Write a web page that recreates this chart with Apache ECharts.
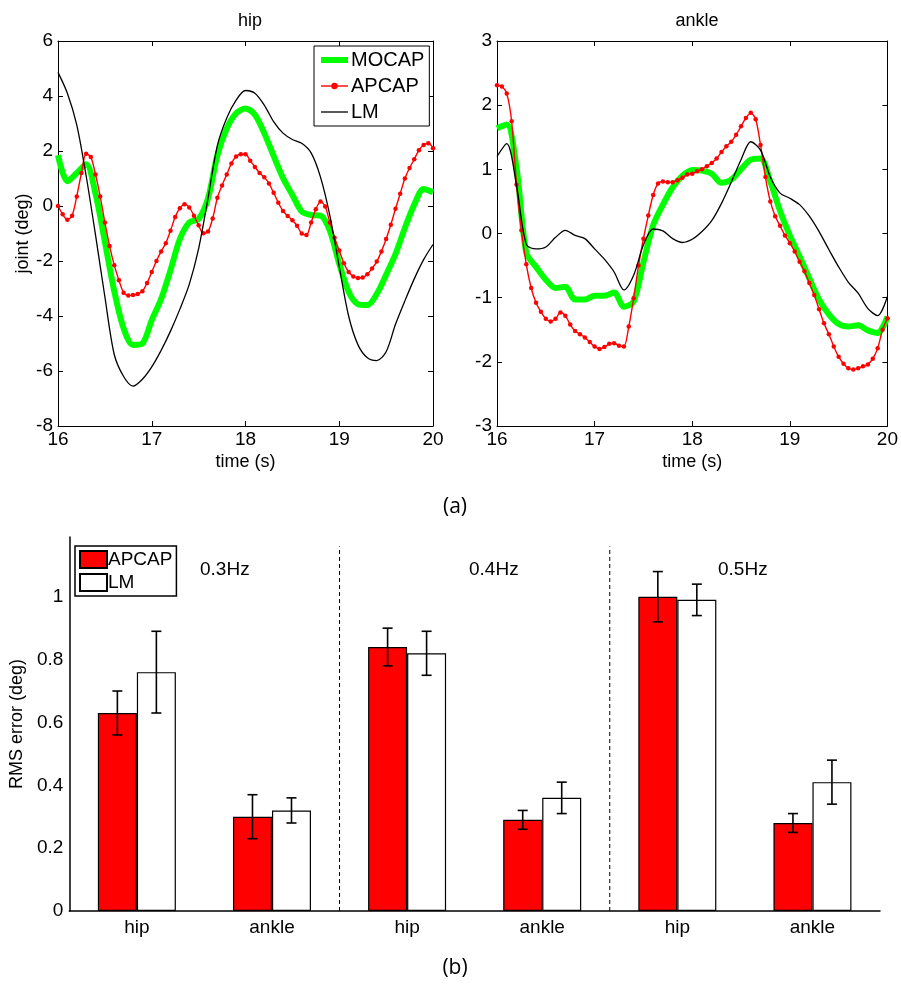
<!DOCTYPE html>
<html>
<head>
<meta charset="utf-8">
<script src="https://cdn.jsdelivr.net/npm/echarts@6/dist/echarts.min.js"></script>
<style>
html,body{margin:0;padding:0;background:#fff;}
#chart{width:901px;height:985px;}
</style>
</head>
<body>
<div id="chart"></div>
<script>
// ---------- data ----------
const tCoarse = [16.0,16.1,16.2,16.3,16.4,16.5,16.6,16.7,16.8,16.9,17.0,17.1,17.2,17.3,17.4,17.5,17.6,17.7,17.8,17.9,18.0,18.1,18.2,18.3,18.4,18.5,18.6,18.7,18.8,18.9,19.0,19.1,19.2,19.3,19.4,19.5,19.6,19.7,19.8,19.9,20.0];
const tFine = [16.00,16.05,16.10,16.15,16.20,16.25,16.30,16.35,16.40,16.45,16.50,16.55,16.60,16.65,16.70,16.75,16.80,16.85,16.90,16.95,17.00,17.05,17.10,17.15,17.20,17.25,17.30,17.35,17.40,17.45,17.50,17.55,17.60,17.65,17.70,17.75,17.80,17.85,17.90,17.95,18.00,18.05,18.10,18.15,18.20,18.25,18.30,18.35,18.40,18.45,18.50,18.55,18.60,18.65,18.70,18.75,18.80,18.85,18.90,18.95,19.00,19.05,19.10,19.15,19.20,19.25,19.30,19.35,19.40,19.45,19.50,19.55,19.60,19.65,19.70,19.75,19.80,19.85,19.90,19.95,20.00];

const hipMocap = [1.85,0.9,1.2,1.52,0.45,-1.3,-3.1,-4.45,-5.05,-5.0,-4.15,-3.38,-2.33,-1.2,-0.6,-0.47,0.28,1.85,2.82,3.37,3.55,3.32,2.65,1.82,1.02,0.4,-0.2,-0.33,-0.35,-0.9,-2.1,-3.12,-3.57,-3.6,-3.2,-2.5,-1.75,-0.8,0.05,0.62,0.5];
const hipLM = [4.86,4.1,2.95,1.1,-1.05,-3.3,-5.4,-6.2,-6.55,-6.3,-5.85,-5.25,-4.55,-3.75,-2.85,-1.55,0.28,2.2,3.2,3.85,4.2,4.1,3.67,3.07,2.65,2.42,2.28,1.93,1.05,-0.35,-2.2,-4.0,-5.05,-5.52,-5.62,-5.3,-4.3,-3.45,-2.65,-1.95,-1.4];
const hipApcap = [0.0,-0.3,-0.5,-0.35,0.35,1.2,1.9,1.78,1.15,0.35,-0.6,-1.45,-2.15,-2.7,-3.15,-3.25,-3.24,-3.2,-3.1,-2.8,-2.4,-2.0,-1.65,-1.35,-0.9,-0.4,-0.08,0.06,-0.05,-0.35,-0.7,-0.99,-0.93,-0.45,0.3,0.75,1.15,1.55,1.8,1.88,1.88,1.65,1.42,1.2,1.05,0.82,0.48,0.12,-0.18,-0.36,-0.52,-0.72,-1.0,-1.05,-0.6,-0.12,0.16,-0.02,-0.6,-1.15,-1.62,-2.08,-2.4,-2.56,-2.62,-2.6,-2.48,-2.27,-2.02,-1.65,-1.2,-0.68,-0.1,0.45,1.0,1.38,1.7,2.03,2.22,2.28,2.1];

const ankMocap = [1.64,1.7,1.02,-0.3,-0.52,-0.72,-0.85,-0.83,-1.03,-1.03,-0.97,-0.97,-0.92,-1.14,-1.06,-0.45,0.13,0.45,0.72,0.9,0.99,0.98,0.93,0.79,0.84,1.0,1.15,1.17,0.81,0.35,-0.03,-0.36,-0.7,-1.03,-1.26,-1.41,-1.45,-1.43,-1.51,-1.55,-1.3];
const ankLM = [1.2,1.4,0.75,-0.17,-0.24,-0.21,-0.06,0.05,-0.03,-0.08,-0.24,-0.4,-0.6,-0.88,-0.65,-0.18,0.07,0.04,-0.08,-0.14,-0.09,0.03,0.2,0.47,0.8,1.15,1.43,1.3,0.88,0.63,0.55,0.45,0.27,0.03,-0.25,-0.52,-0.76,-0.93,-1.17,-1.28,-0.98];
const ankApcap = [2.31,2.29,2.18,1.75,0.76,0.05,-0.48,-0.85,-1.08,-1.22,-1.33,-1.37,-1.33,-1.23,-1.28,-1.42,-1.52,-1.57,-1.62,-1.69,-1.76,-1.80,-1.77,-1.72,-1.71,-1.75,-1.76,-1.45,-1.01,-0.5,-0.08,0.28,0.6,0.78,0.81,0.8,0.8,0.83,0.87,0.92,0.93,0.97,1.0,1.05,1.1,1.17,1.27,1.36,1.43,1.54,1.67,1.80,1.88,1.78,1.38,0.88,0.5,0.27,0.12,-0.03,-0.15,-0.28,-0.44,-0.59,-0.77,-0.96,-1.18,-1.4,-1.57,-1.76,-1.92,-2.03,-2.1,-2.12,-2.1,-2.07,-2.04,-1.95,-1.79,-1.5,-1.32];

const xTicks = [16,17,18,19,20];
const barCats = ['hip','ankle','hip','ankle','hip','ankle'];
const apcapRms = [0.63,0.30,0.84,0.29,1.00,0.28];
const apcapLo  = [0.56,0.23,0.78,0.26,0.92,0.25];
const apcapHi  = [0.70,0.37,0.90,0.32,1.08,0.31];
const lmRms = [0.76,0.32,0.82,0.36,0.99,0.41];
const lmLo  = [0.63,0.28,0.75,0.31,0.94,0.34];
const lmHi  = [0.89,0.36,0.89,0.41,1.04,0.48];
const sepAfter = [1,3];
const freqLabels = ['0.3Hz','0.4Hz','0.5Hz'];
const lineNames = ['MOCAP','APCAP','LM'];
const barNames = ['APCAP','LM'];

// ---------- chart ----------
const F = '"Liberation Sans", Arial, Helvetica, sans-serif';
const FC = '"Open Sans", "Noto Sans", sans-serif';
const pair = (t, v) => t.map((x, i) => [x, v[i]]);

function boxAxesX(grid, min, max, interval) {
  return [
    { gridIndex: grid, type: 'value', min: min, max: max, interval: interval, position: 'bottom',
      name: 'time (s)', nameLocation: 'middle', nameGap: 27,
      nameTextStyle: { fontFamily: F, fontSize: 18, color: '#000' },
      axisLine: { onZero: false, lineStyle: { color: '#000', width: 1 } },
      axisTick: { inside: true, length: 5, lineStyle: { color: '#000' } },
      axisLabel: { fontFamily: F, fontSize: 19, color: '#000', margin: 4 },
      splitLine: { show: false } },
    { gridIndex: grid, type: 'value', min: min, max: max, interval: interval, position: 'top',
      axisLine: { onZero: false, lineStyle: { color: '#000', width: 1 } },
      axisTick: { inside: true, length: 5, lineStyle: { color: '#000' } },
      axisLabel: { show: false }, splitLine: { show: false } }
  ];
}
function boxAxesY(grid, min, max, interval, name) {
  return [
    { gridIndex: grid, type: 'value', min: min, max: max, interval: interval, position: 'left',
      name: name || '', nameLocation: 'middle', nameGap: 26,
      nameTextStyle: { fontFamily: F, fontSize: 18, color: '#000' },
      axisLine: { show: true, onZero: false, lineStyle: { color: '#000', width: 1 } },
      axisTick: { show: true, inside: true, length: 5, lineStyle: { color: '#000' } },
      axisLabel: { fontFamily: F, fontSize: 19, color: '#000', margin: 5 },
      splitLine: { show: false } },
    { gridIndex: grid, type: 'value', min: min, max: max, interval: interval, position: 'right',
      axisLine: { show: true, onZero: false, lineStyle: { color: '#000', width: 1 } },
      axisTick: { show: true, inside: true, length: 5, lineStyle: { color: '#000' } },
      axisLabel: { show: false }, splitLine: { show: false } }
  ];
}

function lineSeries(kind, xi, yi, data) {
  if (kind === 0) return { name: lineNames[0], type: 'line', xAxisIndex: xi, yAxisIndex: yi, data: data,
    smooth: 0.3, showSymbol: false, symbol: 'none', lineStyle: { color: '#00ff00', width: 6 }, itemStyle: { color: '#00ff00' }, z: 2 };
  if (kind === 1) return { name: lineNames[1], type: 'line', xAxisIndex: xi, yAxisIndex: yi, data: data,
    smooth: 0.3, symbol: 'circle', symbolSize: 4.5, showSymbol: true,
    lineStyle: { color: '#ff0000', width: 1.4 }, itemStyle: { color: '#ff0000' }, z: 3 };
  return { name: lineNames[2], type: 'line', xAxisIndex: xi, yAxisIndex: yi, data: data,
    smooth: 0.3, showSymbol: false, symbol: 'none', lineStyle: { color: '#000', width: 1.3 }, itemStyle: { color: '#000' }, z: 4 };
}

const BW = 39;
function errSeries(lo, hi, sign) {
  return { type: 'custom', xAxisIndex: 4, yAxisIndex: 4, z: 10,
    data: lo.map((l, i) => [i, l, hi[i]]),
    renderItem: function (params, api) {
      const a = api.coord([api.value(0), api.value(1)]);
      const b = api.coord([api.value(0), api.value(2)]);
      const x = a[0] + sign * BW / 2;
      const cap = 5;
      const st = { stroke: '#000', lineWidth: 1.6 };
      return { type: 'group', children: [
        { type: 'line', shape: { x1: x, y1: a[1], x2: x, y2: b[1] }, style: st },
        { type: 'line', shape: { x1: x - cap, y1: a[1], x2: x + cap, y2: a[1] }, style: st },
        { type: 'line', shape: { x1: x - cap, y1: b[1], x2: x + cap, y2: b[1] }, style: st }
      ] };
    } };
}

const sepSeries = { type: 'custom', xAxisIndex: 4, yAxisIndex: 4, z: 1,
  data: sepAfter.map(i => [i]),
  renderItem: function (params, api) {
    const i = api.value(0);
    const p1 = api.coord([i, 0]);
    const p2 = api.coord([i + 1, 1.16]);
    const x = (p1[0] + p2[0]) / 2;
    return { type: 'line', shape: { x1: x, y1: p1[1], x2: x, y2: p2[1] },
      style: { stroke: '#000', lineWidth: 1, lineDash: [4, 3] } };
  } };

const option = {
  animation: false,
  backgroundColor: '#fff',
  title: [
    { text: 'hip', left: 245, top: 7, textAlign: 'center', textStyle: { fontFamily: F, fontSize: 18, fontWeight: 'normal', color: '#000' } },
    { text: 'ankle', left: 692, top: 7, textAlign: 'center', textStyle: { fontFamily: F, fontSize: 18, fontWeight: 'normal', color: '#000' } },
    { text: '(a)', left: 450, top: 492, textAlign: 'center', textStyle: { fontFamily: FC, fontSize: 21, fontWeight: 'normal', color: '#000' } },
    { text: '(b)', left: 450, top: 953, textAlign: 'center', textStyle: { fontFamily: FC, fontSize: 21, fontWeight: 'normal', color: '#000' } }
  ],
  legend: [
    { data: [
        { name: lineNames[0], itemStyle: { opacity: 0 }, lineStyle: { width: 6, color: '#00ff00' } },
        { name: lineNames[1], lineStyle: { width: 1.4, color: '#ff0000' } },
        { name: lineNames[2], itemStyle: { opacity: 0 }, lineStyle: { width: 1.3, color: '#000' } }
      ],
      orient: 'vertical', left: 314, top: 46, itemWidth: 27, itemHeight: 8, itemGap: 6,
      padding: [4, 5, 4, 4], borderColor: '#000', borderWidth: 1, backgroundColor: '#fff', borderRadius: 0,
      textStyle: { fontFamily: F, fontSize: 20, color: '#000', padding: [0, 0, 0, -2] }, selectedMode: false },
    { data: barNames.map(n => n + ' (b)'), orient: 'vertical', left: 75, top: 546, itemWidth: 27, itemHeight: 17, itemGap: 4,
      padding: [4, 4, 4, 4], borderColor: '#000', borderWidth: 1.5, backgroundColor: '#fff', borderRadius: 0, icon: 'rect',
      formatter: n => n.replace(' (b)', ''),
      textStyle: { fontFamily: F, fontSize: 19, color: '#000', padding: [0, 0, 0, -4] }, selectedMode: false }
  ],
  grid: [
    { left: 58, top: 41, width: 375, height: 385 },
    { left: 497, top: 41, width: 391, height: 385 },
    { left: 63, top: 537, width: 817, height: 374 }
  ],
  xAxis: [].concat(
    boxAxesX(0, 16, 20, 1),
    boxAxesX(1, 16, 20, 1),
    [{ gridIndex: 2, type: 'category', data: barCats, boundaryGap: true,
       axisLine: { onZero: false, lineStyle: { color: '#000', width: 1.5 } }, axisTick: { show: false },
       axisLabel: { fontFamily: F, fontSize: 19, color: '#000', margin: 7 } }]
  ),
  yAxis: [].concat(
    boxAxesY(0, -8, 6, 2, 'joint (deg)'),
    boxAxesY(1, -3, 3, 1, ''),
    [{ gridIndex: 2, type: 'value', min: 0, max: 1.19, interval: 0.2,
       name: 'RMS error (deg)', nameLocation: 'middle', nameGap: 40,
       nameTextStyle: { fontFamily: F, fontSize: 18, color: '#000' },
       axisLine: { show: true, onZero: false, lineStyle: { color: '#000', width: 1.5 } },
       axisTick: { show: false },
       axisLabel: { fontFamily: F, fontSize: 19, color: '#000', margin: 6, showMaxLabel: false,
         formatter: v => (Math.abs(v * 5 - Math.round(v * 5)) < 1e-6 ? String(Math.round(v * 10) / 10) : '') },
       splitLine: { show: false } }]
  ),
  graphic: [
    { type: 'text', left: 200, top: 560, style: { text: freqLabels[0], font: '19px ' + F, fill: '#000' } },
    { type: 'text', left: 469, top: 560, style: { text: freqLabels[1], font: '19px ' + F, fill: '#000' } },
    { type: 'text', left: 718, top: 560, style: { text: freqLabels[2], font: '19px ' + F, fill: '#000' } }
  ],
  series: [
    lineSeries(0, 0, 0, pair(tCoarse, hipMocap)),
    lineSeries(1, 0, 0, pair(tFine, hipApcap)),
    lineSeries(2, 0, 0, pair(tCoarse, hipLM)),
    lineSeries(0, 2, 2, pair(tCoarse, ankMocap)),
    lineSeries(1, 2, 2, pair(tFine, ankApcap)),
    lineSeries(2, 2, 2, pair(tCoarse, ankLM)),
    sepSeries,
    { name: barNames[0] + ' (b)', type: 'bar', xAxisIndex: 4, yAxisIndex: 4, data: apcapRms, barWidth: BW, barGap: '0%',
      itemStyle: { color: '#ff0000', borderColor: '#000', borderWidth: 1.2 } },
    { name: barNames[1] + ' (b)', type: 'bar', xAxisIndex: 4, yAxisIndex: 4, data: lmRms, barWidth: BW, barGap: '0%',
      itemStyle: { color: '#ffffff', borderColor: '#000', borderWidth: 1.2 } },
    errSeries(apcapLo, apcapHi, -1),
    errSeries(lmLo, lmHi, 1)
  ]
};

const chart = echarts.init(document.getElementById('chart'), null, { renderer: 'canvas' });
chart.setOption(option);
</script>
</body>
</html>
